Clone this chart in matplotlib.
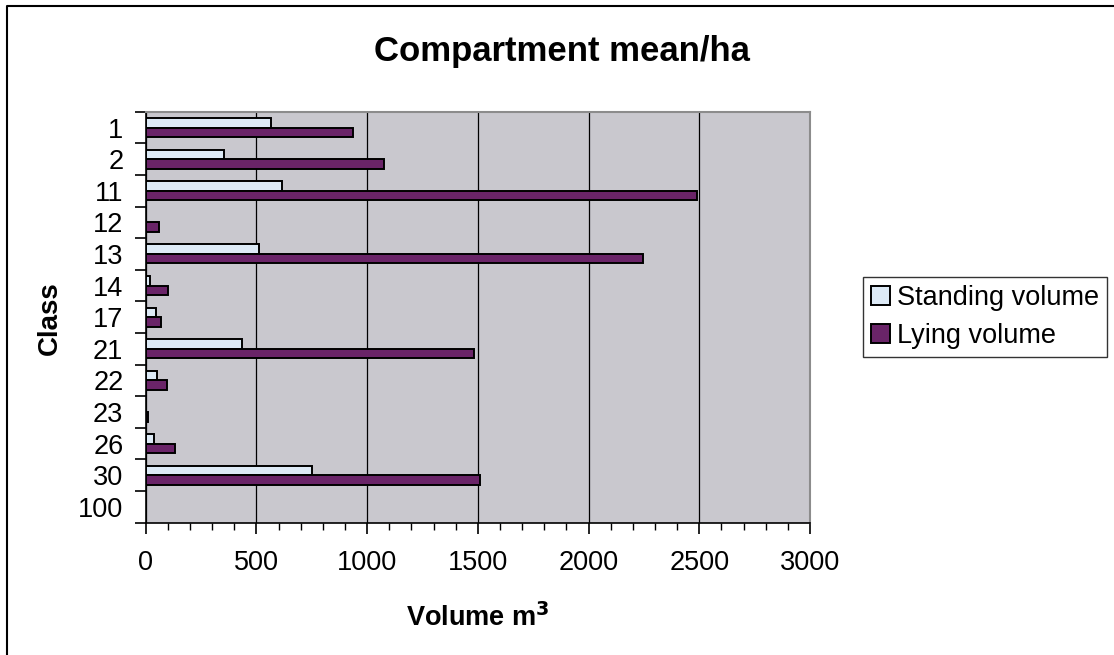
import matplotlib.pyplot as plt
from matplotlib.lines import Line2D
from matplotlib.ticker import MultipleLocator, FixedLocator, NullFormatter

plt.rcParams['font.family'] = ['Liberation Sans', 'DejaVu Sans']

classes = ['1', '2', '11', '12', '13', '14', '17', '21', '22', '23', '26', '30', '100']
standing = [565, 352, 614, 0, 512, 19, 46, 433, 49, 0, 37, 751, 0]
lying = [938, 1075, 2488, 62, 2244, 102, 68, 1483, 98, 10, 132, 1511, 0]

W, H = 1114, 655
fs = 19.5
fig = plt.figure(figsize=(W / 100, H / 100), dpi=100)
ax = fig.add_axes([145.7 / W, 1 - 522.7 / H, (810 - 145.7) / W, (522.7 - 111.7) / H])
ax.set_facecolor('#c9c8ce')

pos = list(range(len(classes)))
bh = 0.3
ax.barh([p - bh / 2 for p in pos], standing, height=bh, color='#ddeaf6',
        edgecolor='black', linewidth=1.4, label='Standing volume', zorder=3)
ax.barh([p + bh / 2 for p in pos], lying, height=bh, color='#6a2468',
        edgecolor='black', linewidth=1.4, label='Lying volume', zorder=3)

ax.set_xlim(0, 3000)
ax.set_ylim(len(classes) - 0.5, -0.5)

ax.xaxis.set_major_locator(MultipleLocator(500))
ax.xaxis.set_minor_locator(MultipleLocator(100))
ax.grid(axis='x', which='major', color='black', linewidth=0.9, zorder=1)
ax.tick_params(axis='x', which='major', direction='out', length=8, width=1.2,
               labelsize=fs, pad=12)
ax.tick_params(axis='x', which='minor', direction='out', length=5, width=1.0)

# category labels centred, tick marks on the boundaries between classes
ax.set_yticks(pos)
ax.set_yticklabels(classes)
ax.yaxis.set_minor_locator(FixedLocator([p - 0.5 for p in pos] + [len(classes) - 0.5]))
ax.yaxis.set_minor_formatter(NullFormatter())
ax.tick_params(axis='y', which='major', length=0, labelsize=fs, pad=16)
ax.tick_params(axis='y', which='minor', direction='out', length=8, width=1.2)

for side in ('top', 'right'):
    ax.spines[side].set_color('#8c8c8c')
    ax.spines[side].set_linewidth(1.5)
for side in ('left', 'bottom'):
    ax.spines[side].set_color('black')
    ax.spines[side].set_linewidth(1.2)

fig.text(562 / W, 1 - 61 / H, 'Compartment mean/ha', fontsize=25, fontweight='bold',
         ha='center', va='baseline')
fig.text(478 / W, 1 - 626 / H, 'Volume m$^\\mathbf{3}$', fontsize=fs, fontweight='bold',
         ha='center', va='baseline')
fig.text(50 / W, 1 - 318 / H, 'Class', fontsize=20, fontweight='bold',
         rotation=90, ha='center', va='center')

leg = fig.legend(loc='upper left', bbox_to_anchor=(863 / W, 1 - 277 / H),
                 fontsize=fs, frameon=True, fancybox=False, borderpad=0.3,
                 handlelength=0.7, handleheight=0.7, handletextpad=0.25,
                 labelspacing=0.45, borderaxespad=0)
leg.get_frame().set_edgecolor('black')
leg.get_frame().set_linewidth(1.0)

# outer chart border
fig.add_artist(Line2D([7 / W, 7 / W, 1], [0, 1 - 6 / H, 1 - 6 / H],
                      transform=fig.transFigure, color='black', linewidth=1.5))

fig.savefig('out.png', dpi=100)
